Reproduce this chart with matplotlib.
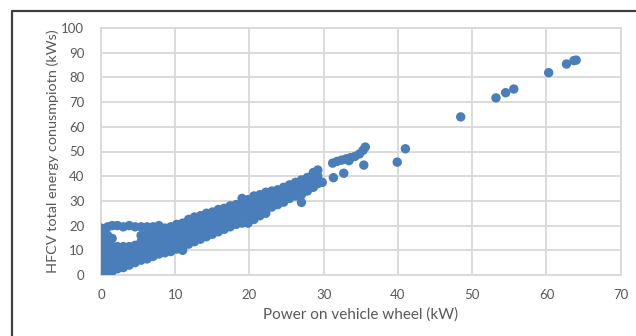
import matplotlib.pyplot as plt
from matplotlib.lines import Line2D

# === Data: (power on wheel kW, energy kWs) ===
# dense band, listed column by column
band_x = (
    [0.0] * 9 + [0.4] * 8 + [0.9] * 8 + [1.5] * 7 + [2.2] * 6 + [3.0] * 6
    + [3.8] * 5 + [4.6] * 5 + [5.4] * 6 + [6.2] * 6 + [7.0] * 6 + [7.8] * 6
    + [8.6] * 5 + [9.4] * 5 + [10.2] * 5 + [11.0] * 6 + [11.8] * 5 + [12.6] * 5
    + [13.4] * 5 + [14.2] * 5 + [15.0] * 5 + [15.8] * 5 + [16.6] * 5 + [17.4] * 5
    + [18.2] * 4 + [19.0] * 5 + [19.8] * 5 + [20.6] * 5 + [21.4] * 5 + [22.2] * 5
    + [23.0] * 4 + [23.8] * 4 + [24.6] * 4 + [25.4] * 4 + [26.2] * 4 + [27.0] * 4
    + [27.8] * 3 + [28.6] * 3 + [29.2] * 3
)
band_y = [
    0, 2.5, 5, 7.5, 10, 12.5, 15, 17.5, 19,
    1, 3.5, 6, 8.5, 11, 13.5, 16, 18.5,
    1, 3.5, 6, 8.5, 11, 13.5, 16, 19.5,
    1.5, 4, 6.5, 9, 11.5, 14.8, 20,
    2.5, 5, 7.5, 10, 11.5, 20,
    3, 5.5, 8, 10.5, 11.5, 19.5,
    4, 6.5, 9, 11.5, 20,
    5, 7.5, 10, 12, 19.5,
    6, 8.5, 11, 13.5, 16, 19.5,
    6.5, 9, 11.5, 14, 16.5, 19.5,
    7.5, 10, 12.5, 15, 17.5, 19.5,
    8.5, 11, 13.5, 16, 18.5, 20,
    9, 11.5, 14, 16.5, 19,
    9.5, 12, 14.5, 17, 19.5,
    10.5, 13, 15.5, 18, 20.5,
    10, 11.5, 13.5, 16, 18.5, 21,
    12.5, 15, 17.5, 20, 22.5,
    13.5, 16, 18.5, 21, 23.5,
    14.5, 17, 19.5, 22, 24,
    15.5, 18, 20.5, 23, 25,
    16.5, 19, 21.5, 24, 25.5,
    17.5, 20, 22.5, 25, 26.5,
    18.5, 21, 23.5, 26, 27,
    19.5, 22, 24.5, 27, 28,
    20.5, 23, 25.5, 28.5,
    21, 23.5, 26, 28.5, 31,
    21, 24.5, 27, 29.5, 30.5,
    22.5, 25.5, 28, 30.5, 32,
    24, 26.5, 29, 31.5, 32.5,
    25, 27.5, 30, 32.5, 33.5,
    27.5, 30, 32, 34,
    28.5, 31, 33, 34.5,
    29.5, 32, 34, 35.5,
    31, 33, 35, 36.5,
    32, 34, 36, 37.5,
    32.5, 35, 37.5, 38.5,
    34, 36.5, 39.5,
    35.5, 38, 41.5,
    37, 40, 42.5,
]

# sparse points above ~27 kW
sparse_x = [27.0, 29.8, 31.3, 32.7, 31.2, 31.8, 32.4, 33.0, 33.6, 34.2, 34.8,
            35.3, 35.6, 33.4, 35.4, 39.9, 41.0, 48.45, 53.2, 54.5, 55.6,
            60.3, 62.7, 63.7, 64.0]
sparse_y = [29.4, 37.5, 39.4, 41.2, 45.3, 46.0, 46.5, 47.0, 47.5, 48.0, 49.0,
            50.5, 51.8, 46.3, 44.5, 45.7, 51.1, 64.0, 71.7, 73.8, 75.3,
            81.9, 85.4, 86.8, 87.0]

x_ticks = [0, 10, 20, 30, 40, 50, 60, 70]
y_ticks = [0, 10, 20, 30, 40, 50, 60, 70, 80, 90, 100]

plt.rcParams['font.family'] = ['Lato', 'DejaVu Sans']
text_color = '#595959'
grid_color = '#d9d9d9'
dot_color = '#4a7ebb'

fig = plt.figure(figsize=(6.36, 3.36), dpi=100)
ax = fig.add_axes([101 / 636, 61 / 336, 519.7 / 636, 247 / 336])

ax.scatter(band_x + sparse_x, band_y + sparse_y, s=46, color=dot_color,
           edgecolors='none', zorder=3)

ax.set_xlim(0, 70)
ax.set_ylim(0, 100)
ax.set_xticks(x_ticks)
ax.set_yticks(y_ticks)
ax.grid(True, color=grid_color, linewidth=1.3)
ax.set_axisbelow(True)
for sp in ax.spines.values():
    sp.set_color(grid_color)
    sp.set_linewidth(1.3)
ax.tick_params(length=0, labelsize=9.5, colors=text_color)
ax.tick_params(axis='y', pad=12)
ax.tick_params(axis='x', pad=10)

ax.set_xlabel("Power on vehicle wheel (kW)", fontsize=11, color=text_color,
              labelpad=5)
ax.set_ylabel("HFCV total energy conusmpiotn (kWs)", fontsize=10.4,
              color=text_color, labelpad=2)

# outer frame (top and left edges)
fig.add_artist(Line2D([12 / 636, 12 / 636, 1], [0, 1 - 11 / 336, 1 - 11 / 336],
                      transform=fig.transFigure, color='#404040', linewidth=1.6))

fig.savefig("out.png", dpi=100)
